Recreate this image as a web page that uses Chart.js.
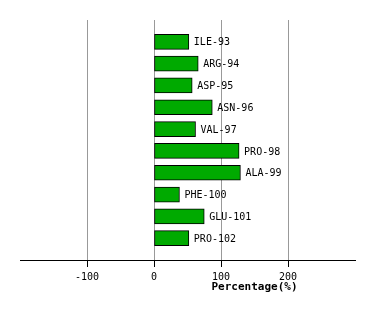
<!DOCTYPE html>
<html>
<head>
<meta charset="utf-8">
<script src="https://cdn.jsdelivr.net/npm/chart.js@4"></script>
<style>
  html, body { margin: 0; padding: 0; background: #fff; }
  #wrap { width: 374px; height: 320px; }
</style>
</head>
<body>
<div id="wrap"><canvas id="chart" width="374" height="320"></canvas></div>
<script>
  const residues = ["ILE-93", "ARG-94", "ASP-95", "ASN-96", "VAL-97", "PRO-98", "ALA-99", "PHE-100", "GLU-101", "PRO-102"];
  const percentages = [52, 66, 57, 87, 62, 127, 129, 38, 75, 52];
  const xTicks = [-100, 0, 100, 200];
  const axisTitle = "Percentage(%)";

  const MONO = "'DejaVu Sans Mono', monospace";

  // pad the category axis with empty slots so bars sit like the original
  const labels = ["", ...residues, ""];
  const values = [null, ...percentages, null];

  const barLabels = {
    id: "barLabels",
    afterDatasetsDraw(chart) {
      const ctx = chart.ctx;
      const meta = chart.getDatasetMeta(0);
      ctx.save();
      ctx.font = "10px " + MONO;
      ctx.fillStyle = "#000";
      ctx.textAlign = "left";
      ctx.textBaseline = "middle";
      meta.data.forEach((bar, i) => {
        if (values[i] === null) return;
        ctx.fillText(labels[i], bar.x + 5, bar.y + 1);
      });
      ctx.restore();
    }
  };

  const xTitle = {
    id: "xTitle",
    afterDraw(chart) {
      const ctx = chart.ctx;
      const x = chart.scales.x.getPixelForValue(150);
      ctx.save();
      ctx.font = "bold 11px " + MONO;
      ctx.fillStyle = "#000";
      ctx.textAlign = "center";
      ctx.textBaseline = "middle";
      ctx.fillText(axisTitle, x, 287);
      ctx.restore();
    }
  };

  new Chart(document.getElementById("chart"), {
    type: "bar",
    data: {
      labels,
      datasets: [{
        data: values,
        backgroundColor: "#00aa00",
        borderColor: "#000",
        borderWidth: 1,
        borderSkipped: false,
        barThickness: 15
      }]
    },
    plugins: [barLabels, xTitle],
    options: {
      indexAxis: "y",
      responsive: false,
      animation: false,
      events: [],
      layout: { padding: { left: 20, right: 19, top: 20, bottom: 33 } },
      plugins: {
        legend: { display: false },
        tooltip: { enabled: false }
      },
      scales: {
        y: {
          type: "category",
          offset: false,
          display: false,
          grid: { display: false }
        },
        x: {
          type: "linear",
          min: -200,
          max: 300,
          afterBuildTicks(scale) {
            scale.ticks = xTicks.map(v => ({ value: v }));
          },
          grid: {
            color: "#999",
            lineWidth: 1,
            drawTicks: true,
            tickLength: 7,
            tickColor: "#000",
            tickWidth: 1
          },
          border: { display: true, color: "#000", width: 1 },
          ticks: {
            color: "#000",
            font: { family: MONO, size: 10 },
            padding: 4,
            maxRotation: 0
          }
        }
      }
    }
  });
</script>
</body>
</html>
